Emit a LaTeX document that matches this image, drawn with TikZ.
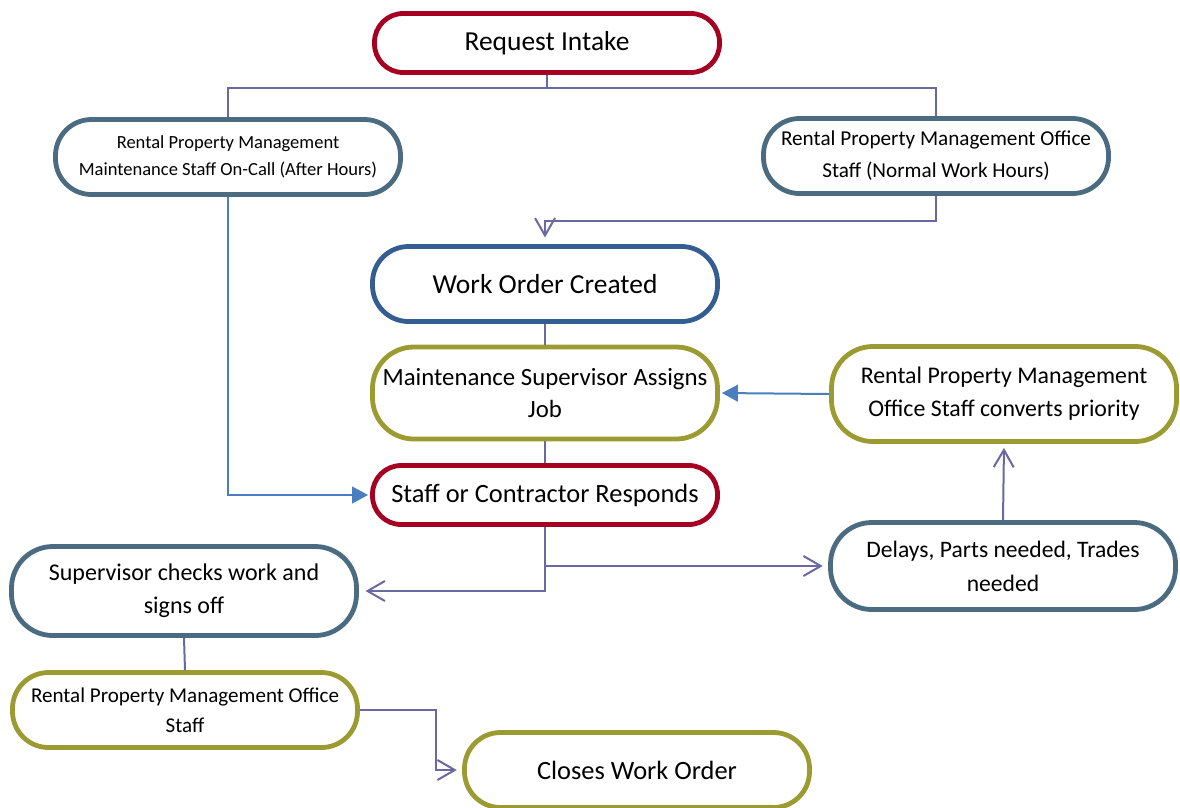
\documentclass[tikz,border=0pt]{standalone}
\usepackage{fontspec}
\setmainfont{Carlito}
\usetikzlibrary{arrows.meta}
\definecolor{stepred}{RGB}{165,0,33}
\definecolor{stepslate}{RGB}{75,107,128}
\definecolor{stepblue}{RGB}{52,94,145}
\definecolor{stepolive}{RGB}{155,155,50}
\definecolor{linkpurple}{RGB}{106,104,160}
\definecolor{feedblue}{RGB}{74,126,190}
\providecommand{\fs}[2]{\fontsize{#1}{#2}\selectfont}

\begin{document}
\begin{tikzpicture}[x=0.75pt,y=-0.75pt,
    pill/.style={draw,line width=3.6pt,rounded corners=21.5pt,fill=white,
      align=center,inner sep=0pt,minimum width=258.75pt},
    tall/.style={rounded corners=27pt},
    taller/.style={rounded corners=31pt},
    link/.style={draw=linkpurple,line width=1.5pt},
    openarrow/.style={link,-{Straight Barb[length=13pt,width=15pt]}},
    feed/.style={draw=feedblue,line width=1.5pt,-{Triangle[length=12pt,width=12.5pt]}}
  ]
  \useasboundingbox (0,0) rectangle (1180,807);
  \node[pill,draw=stepred,minimum height=44.25pt,font=\fs{20.6pt}{24pt}]
    (intake) at (547,43) {Request Intake};
  \node[pill,tall,draw=stepslate,minimum height=56.25pt,font=\fs{13.9pt}{20.25pt}]
    (oncall) at (228,157) {Rental Property Management\\Maintenance Staff On-Call (After Hours)};
  \node[pill,tall,draw=stepslate,minimum height=56.25pt,font=\fs{15.9pt}{24pt}]
    (office) at (936,156) {Rental Property Management Office\\Staff (Normal Work Hours)};
  \node[pill,tall,draw=stepblue,minimum height=56.25pt,font=\fs{20.6pt}{24pt}]
    (created) at (545,284) {Work Order Created};
  \node[pill,taller,draw=stepolive,minimum height=69pt,font=\fs{18.6pt}{24pt}]
    (assigns) at (545,393) {Maintenance Supervisor Assigns\\Job};
  \node[pill,draw=stepred,minimum height=44.25pt,font=\fs{19.8pt}{24pt}]
    (responds) at (545,495) {Staff or Contractor Responds};
  \node[pill,taller,draw=stepolive,minimum height=71.25pt,font=\fs{17.9pt}{24.75pt}]
    (converts) at (1004,394) {Rental Property Management\\Office Staff converts priority};
  \node[pill,taller,draw=stepslate,minimum height=65.25pt,font=\fs{17.7pt}{25.5pt}]
    (delays) at (1003,566) {Delays, Parts needed, Trades\\needed};
  \node[pill,taller,draw=stepslate,minimum height=66.75pt,font=\fs{18pt}{24.75pt}]
    (checks) at (184,591) {Supervisor checks work and\\signs off};
  \node[pill,tall,draw=stepolive,minimum height=56.25pt,font=\fs{15.8pt}{22.5pt}]
    (closeoff) at (185,710) {Rental Property Management Office\\Staff};
  \node[pill,tall,draw=stepolive,minimum height=56.25pt,font=\fs{19.8pt}{24pt}]
    (closes) at (637,770) {Closes Work Order};

  \coordinate (split) at (547,88);
  \coordinate (bend) at (436,770);
  \draw[link] (intake.south) -- (split);
  \draw[link] (oncall.north) |- (split) -| (office.north);
  \draw[openarrow,shorten >=5pt] (office.south) -- ++(0,25) -| (created.north);
  \draw[link] (created.south) -- (assigns.north);
  \draw[link] (assigns.south) -- (responds.north);
  \draw[feed,shorten >=1.5pt] (oncall.south) |- (responds.west);
  \draw[feed,shorten >=1.5pt] (converts.west) -- (assigns.east);
  \draw[openarrow,shorten >=4pt] (responds.south) |- (delays.west);
  \draw[openarrow,shorten >=5pt] (responds.south) |- (checks.east);
  \draw[openarrow,shorten >=3pt] (delays.north) -- (converts.south);
  \draw[link] (checks.south) -- (closeoff.north);
  \draw[openarrow,shorten >=4pt] (closeoff.east) -| (bend) -- (closes.west);
\end{tikzpicture}
\end{document}
